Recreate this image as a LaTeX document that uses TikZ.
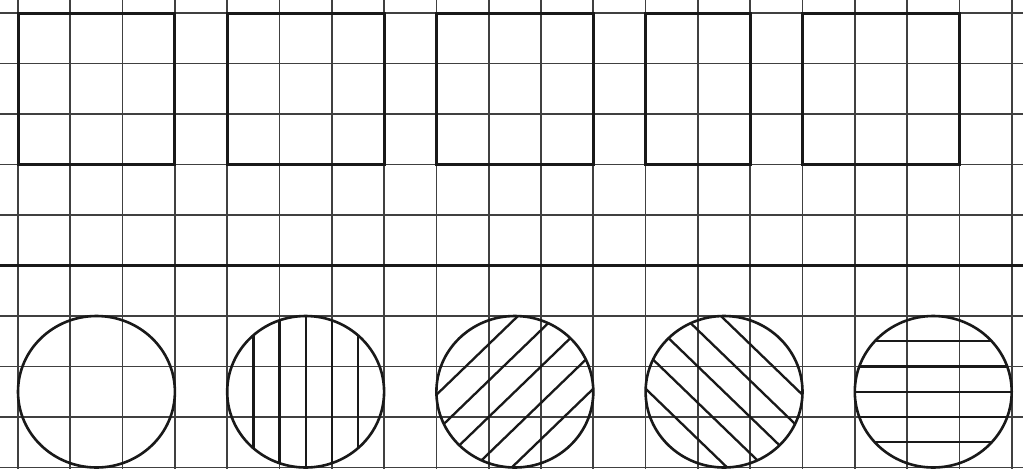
\documentclass[tikz,border=0pt]{standalone}
\begin{document}
\begin{tikzpicture}[x=52.3pt,y=-50.5pt,
  gridline/.style={line width=1.7pt, draw=black!75},
  heavy/.style={line width=3pt, draw=black!90},
  ring/.style={line width=2.6pt, draw=black!90},
  hatch/.style={line width=2.3pt, draw=black!90}]
\fill[white] (-0.3442,-0.2574) rectangle (19.2161,9.0297);
\useasboundingbox (-0.3442,-0.2574) rectangle (19.2161,9.0297);
% grid
\foreach \i in {0,...,19} \draw[gridline] (\i,-0.2574) -- (\i,9.0297);
\foreach \j in {0,...,9} \draw[gridline] (-0.3442,\j) -- (19.2161,\j);
% rectangles
\draw[heavy] (0,0) rectangle (3,3);
\draw[heavy] (4,0) rectangle (7,3);
\draw[heavy] (8,0) rectangle (11,3);
\draw[heavy] (12,0) rectangle (14,3);
\draw[heavy] (15,0) rectangle (18,3);
% dividing line
\draw[heavy] (-0.3442,5) -- (19.2161,5);
% hatching
\begin{scope}
  \clip (5.5,7.5) circle (1.5);
  \foreach \d in {-1,-0.5,0,0.5,1} \draw[hatch] ({5.5+\d},5.5) -- ({5.5+\d},9.5);
\end{scope}
\begin{scope}
  \clip (9.5,7.5) circle (1.5);
  \foreach \d in {-1.44,-0.72,0,0.72,1.44} \draw[hatch] ({9.5+\d-2},9.5) -- ({9.5+\d+2},5.5);
\end{scope}
\begin{scope}
  \clip (13.5,7.5) circle (1.5);
  \foreach \d in {-1.44,-0.72,0,0.72,1.44} \draw[hatch] ({13.5+\d-2},5.5) -- ({13.5+\d+2},9.5);
\end{scope}
\begin{scope}
  \clip (17.5,7.5) circle (1.5);
  \foreach \d in {-1,-0.5,0,0.5,1} \draw[hatch] (15.5,{7.5+\d}) -- (19.5,{7.5+\d});
\end{scope}
% circles
\foreach \cx in {1.5,5.5,9.5,13.5,17.5} \draw[ring] (\cx,7.5) circle (1.5);
\end{tikzpicture}
\end{document}
